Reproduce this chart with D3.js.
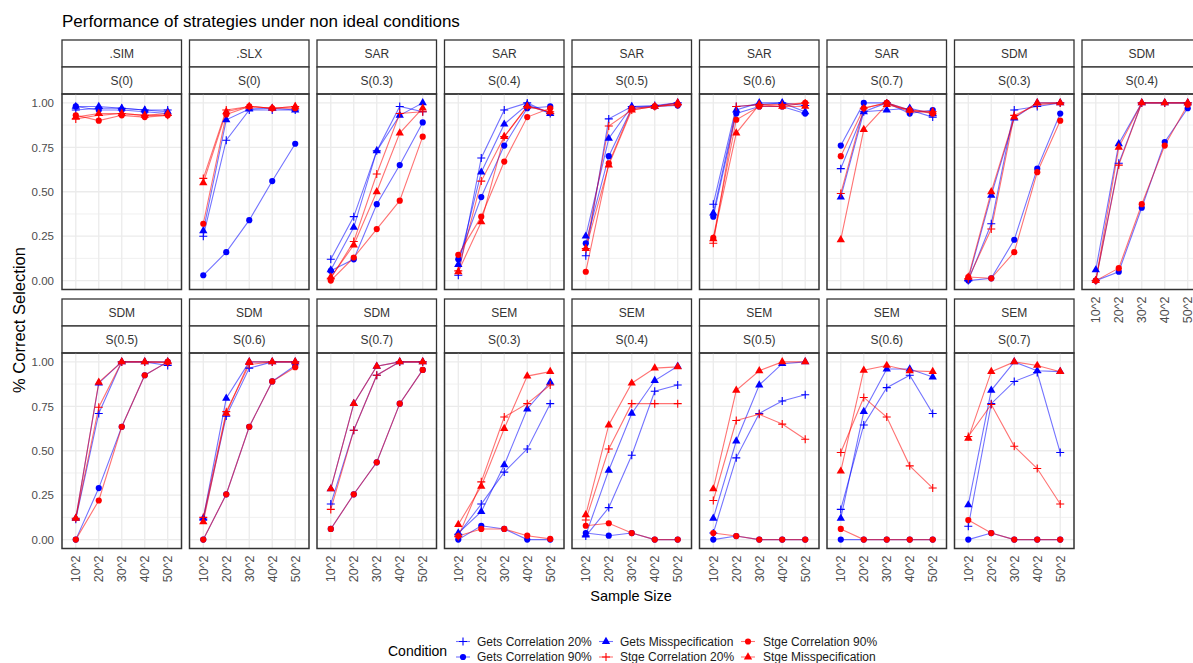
<!DOCTYPE html>
<html>
<head>
<meta charset="utf-8">
<script src="https://cdn.jsdelivr.net/npm/d3@7"></script>
<style>
  html, body { margin: 0; padding: 0; background: #ffffff; }
  svg { display: block; font-family: "Liberation Sans", Arial, sans-serif; }
</style>
</head>
<body>
<svg id="chart" width="1193" height="663"></svg>
<script>
// ---------------- DATA ----------------
const chartTitle = "Performance of strategies under non ideal conditions";
const xTitle = "Sample Size";
const yTitle = "% Correct Selection";
const legendTitle = "Condition";

const panelModels = [".SIM", ".SLX", "SAR", "SAR", "SAR", "SAR", "SAR", "SDM", "SDM",
                     "SDM", "SDM", "SDM", "SEM", "SEM", "SEM", "SEM", "SEM"];
const panelRhos = ["S(0)", "S(0)", "S(0.3)", "S(0.4)", "S(0.5)", "S(0.6)", "S(0.7)", "S(0.3)", "S(0.4)",
                   "S(0.5)", "S(0.6)", "S(0.7)", "S(0.3)", "S(0.4)", "S(0.5)", "S(0.6)", "S(0.7)"];
const sampleSizes = ["10^2", "20^2", "30^2", "40^2", "50^2"];
const yTicks = [0, 0.25, 0.5, 0.75, 1];
const yMinorTicks = [0.125, 0.375, 0.625, 0.875];

const conditionNames = ["Gets Correlation 20%", "Gets Correlation 90%", "Gets Misspecification",
                        "Stge Correlation 20%", "Stge Correlation 90%", "Stge Misspecification"];
const conditionColors = ["#0000FF", "#0000FF", "#0000FF", "#FF0000", "#FF0000", "#FF0000"];
const conditionShapes = ["plus", "circle", "triangle", "plus", "circle", "triangle"];

// one row per panel, five values per row (10^2 .. 50^2)
const getsCorr20 = [
  [0.96, 0.97, 0.97, 0.96, 0.96],
  [0.25, 0.79, 0.96, 0.96, 0.96],
  [0.12, 0.36, 0.73, 0.98, 0.95],
  [0.03, 0.69, 0.96, 1.00, 0.94],
  [0.14, 0.91, 0.98, 0.985, 1.00],
  [0.43, 0.98, 0.99, 1.00, 0.985],
  [0.63, 0.95, 1.00, 0.96, 0.92],
  [0.00, 0.32, 0.96, 0.98, 1.00],
  [0.00, 0.66, 1.00, 1.00, 1.00],
  [0.115, 0.71, 1.00, 1.00, 0.98],
  [0.115, 0.695, 0.965, 1.00, 1.00],
  [0.20, 0.615, 0.925, 1.00, 1.00],
  [0.03, 0.20, 0.38, 0.51, 0.765],
  [0.02, 0.18, 0.475, 0.835, 0.87],
  [0.037, 0.46, 0.71, 0.78, 0.815],
  [0.17, 0.645, 0.855, 0.925, 0.71],
  [0.075, 0.765, 0.89, 0.94, 0.49]
];
const getsCorr90 = [
  [0.98, 0.96, 0.96, 0.95, 0.94],
  [0.03, 0.16, 0.34, 0.56, 0.77],
  [0.055, 0.12, 0.43, 0.65, 0.89],
  [0.12, 0.47, 0.76, 0.97, 0.98],
  [0.21, 0.70, 0.97, 0.98, 0.985],
  [0.36, 0.94, 0.98, 0.98, 0.94],
  [0.76, 1.00, 1.00, 0.94, 0.96],
  [0.00, 0.013, 0.23, 0.63, 0.94],
  [0.00, 0.05, 0.41, 0.78, 0.97],
  [0.00, 0.29, 0.635, 0.925, 1.00],
  [0.00, 0.255, 0.635, 0.89, 0.98],
  [0.06, 0.255, 0.435, 0.765, 0.955],
  [0.00, 0.078, 0.06, 0.00, 0.00],
  [0.037, 0.022, 0.037, 0.00, 0.00],
  [0.00, 0.02, 0.00, 0.00, 0.00],
  [0.00, 0.00, 0.00, 0.00, 0.00],
  [0.00, 0.037, 0.00, 0.00, 0.00]
];
const getsMisspec = [
  [0.98, 0.98, 0.97, 0.96, 0.95],
  [0.28, 0.905, 0.965, 0.97, 0.96],
  [0.06, 0.30, 0.73, 0.93, 1.00],
  [0.09, 0.61, 0.88, 0.99, 0.94],
  [0.25, 0.80, 0.98, 0.98, 1.00],
  [0.38, 0.96, 1.00, 1.00, 0.95],
  [0.47, 0.95, 0.96, 0.97, 0.94],
  [0.01, 0.48, 0.915, 1.00, 1.00],
  [0.06, 0.77, 1.00, 1.00, 1.00],
  [0.12, 0.88, 1.00, 1.00, 1.00],
  [0.12, 0.795, 1.00, 1.00, 1.00],
  [0.285, 0.765, 0.975, 1.00, 1.00],
  [0.037, 0.157, 0.42, 0.735, 0.885],
  [0.026, 0.39, 0.71, 0.895, 0.975],
  [0.12, 0.555, 0.87, 0.99, 1.00],
  [0.12, 0.72, 0.96, 0.96, 0.915],
  [0.195, 0.84, 1.00, 0.95, 0.945]
];
const stgeCorr20 = [
  [0.91, 0.93, 0.94, 0.93, 0.93],
  [0.575, 0.96, 0.98, 0.97, 0.98],
  [0.013, 0.22, 0.60, 0.94, 0.95],
  [0.055, 0.56, 0.81, 0.98, 0.95],
  [0.18, 0.87, 0.96, 0.98, 0.99],
  [0.21, 0.98, 0.99, 0.99, 1.00],
  [0.49, 0.97, 1.00, 0.95, 0.95],
  [0.01, 0.29, 0.93, 0.99, 1.00],
  [0.00, 0.65, 1.00, 1.00, 1.00],
  [0.12, 0.745, 1.00, 1.00, 0.995],
  [0.125, 0.72, 0.985, 1.00, 1.00],
  [0.17, 0.615, 0.925, 1.00, 1.00],
  [0.017, 0.325, 0.69, 0.765, 0.87],
  [0.11, 0.51, 0.765, 0.765, 0.765],
  [0.22, 0.67, 0.705, 0.65, 0.565],
  [0.49, 0.80, 0.69, 0.415, 0.29],
  [0.58, 0.76, 0.525, 0.40, 0.20]
];
const stgeCorr90 = [
  [0.93, 0.90, 0.93, 0.92, 0.93],
  [0.32, 0.935, 0.98, 0.97, 0.97],
  [0.00, 0.13, 0.29, 0.45, 0.81],
  [0.145, 0.36, 0.67, 0.92, 0.97],
  [0.05, 0.66, 0.97, 0.98, 0.99],
  [0.24, 0.905, 0.98, 0.98, 1.00],
  [0.70, 0.97, 1.00, 0.96, 0.94],
  [0.02, 0.013, 0.16, 0.61, 0.90],
  [0.00, 0.07, 0.43, 0.76, 0.99],
  [0.00, 0.22, 0.635, 0.925, 1.00],
  [0.00, 0.255, 0.635, 0.89, 0.97],
  [0.06, 0.255, 0.435, 0.765, 0.955],
  [0.02, 0.06, 0.06, 0.022, 0.004],
  [0.078, 0.092, 0.037, 0.00, 0.00],
  [0.037, 0.02, 0.00, 0.00, 0.00],
  [0.06, 0.00, 0.00, 0.00, 0.00],
  [0.11, 0.037, 0.00, 0.00, 0.00]
];
const stgeMisspec = [
  [0.92, 0.94, 0.94, 0.93, 0.94],
  [0.55, 0.95, 0.98, 0.97, 0.98],
  [0.02, 0.20, 0.50, 0.83, 0.97],
  [0.05, 0.33, 0.81, 0.98, 0.95],
  [0.18, 0.65, 0.96, 0.98, 1.00],
  [0.235, 0.83, 0.99, 0.98, 0.98],
  [0.23, 0.85, 0.99, 0.96, 0.95],
  [0.02, 0.50, 0.92, 1.00, 1.00],
  [0.00, 0.75, 1.00, 1.00, 1.00],
  [0.12, 0.885, 1.00, 1.00, 1.00],
  [0.10, 0.71, 1.00, 1.00, 1.00],
  [0.285, 0.765, 0.975, 1.00, 1.00],
  [0.085, 0.30, 0.625, 0.92, 0.945],
  [0.14, 0.645, 0.88, 0.965, 0.972],
  [0.285, 0.84, 0.95, 1.00, 1.00],
  [0.385, 0.953, 0.98, 0.95, 0.945],
  [0.57, 0.945, 1.00, 0.98, 0.945]
];
const seriesValues = [getsCorr20, getsCorr90, getsMisspec, stgeCorr20, stgeCorr90, stgeMisspec];

// ---------------- LAYOUT ----------------
const svg = d3.select("#chart");
const nCols = 9;
const colX0 = 62, colPitch = 127.5, panelW = 119.5;
const rowTop = [40, 299];
const stripH = 27, panelH = 195.5;
const tickColor = "#4D4D4D";
const gridColor = "#EBEBEB";
const borderColor = "#333333";

function symbolPath(shape) {
  if (shape === "circle") return d3.symbol(d3.symbolCircle, 30)();
  if (shape === "triangle") return d3.symbol(d3.symbolTriangle, 30)();
  return "M-4,0H4M0,-4V4";
}
function drawSymbol(g, shape, color, x, y) {
  const p = g.append("path")
    .attr("d", symbolPath(shape))
    .attr("transform", `translate(${x},${y})`);
  if (shape === "plus") {
    p.attr("fill", "none").attr("stroke", color).attr("stroke-width", 1.1);
  } else {
    p.attr("fill", color).attr("stroke", "none");
  }
}

// title
svg.append("text")
  .attr("x", 62).attr("y", 27)
  .attr("font-size", 17).attr("fill", "#000")
  .text(chartTitle);

panelModels.forEach((model, i) => {
  const col = i % nCols, row = Math.floor(i / nCols);
  const x0 = colX0 + col * colPitch;
  const top = rowTop[row];
  const pTop = top + 2 * stripH;
  const pBot = pTop + panelH;

  const x = d3.scalePoint().domain(sampleSizes).range([x0, x0 + panelW]).padding(0.6);
  const y = d3.scaleLinear().domain([-0.05, 1.05]).range([pBot, pTop]);

  const g = svg.append("g");

  // strips
  [model, panelRhos[i]].forEach((lab, k) => {
    g.append("rect")
      .attr("x", x0).attr("y", top + k * stripH)
      .attr("width", panelW).attr("height", stripH)
      .attr("fill", "#fff").attr("stroke", borderColor).attr("stroke-width", 1.3);
    g.append("text")
      .attr("x", x0 + panelW / 2).attr("y", top + k * stripH + stripH / 2)
      .attr("text-anchor", "middle").attr("dominant-baseline", "central")
      .attr("font-size", 12).attr("fill", "#333")
      .text(lab);
  });

  // grid
  yMinorTicks.forEach(t => {
    g.append("line").attr("x1", x0).attr("x2", x0 + panelW)
      .attr("y1", y(t)).attr("y2", y(t))
      .attr("stroke", gridColor).attr("stroke-width", 0.7);
  });
  yTicks.forEach(t => {
    g.append("line").attr("x1", x0).attr("x2", x0 + panelW)
      .attr("y1", y(t)).attr("y2", y(t))
      .attr("stroke", gridColor).attr("stroke-width", 1.3);
  });
  sampleSizes.forEach(s => {
    g.append("line").attr("x1", x(s)).attr("x2", x(s))
      .attr("y1", pTop).attr("y2", pBot)
      .attr("stroke", gridColor).attr("stroke-width", 1.3);
  });

  // lines
  const line = d3.line().x((d, j) => x(sampleSizes[j])).y(d => y(d));
  seriesValues.forEach((series, c) => {
    g.append("path")
      .attr("d", line(series[i]))
      .attr("fill", "none")
      .attr("stroke", conditionColors[c])
      .attr("stroke-opacity", 0.55)
      .attr("stroke-width", 1.1);
  });
  // points
  seriesValues.forEach((series, c) => {
    series[i].forEach((v, j) => {
      drawSymbol(g, conditionShapes[c], conditionColors[c], x(sampleSizes[j]), y(v));
    });
  });

  // border
  g.append("rect")
    .attr("x", x0).attr("y", pTop)
    .attr("width", panelW).attr("height", panelH)
    .attr("fill", "none").attr("stroke", borderColor).attr("stroke-width", 1.5);

  // y axis labels (first column)
  if (col === 0) {
    const ax = d3.axisLeft(y).tickValues(yTicks).tickFormat(d3.format(".2f"))
      .tickSize(0).tickPadding(8);
    const ag = svg.append("g").attr("transform", `translate(${x0},0)`).call(ax);
    ag.select(".domain").remove();
    ag.selectAll("text").attr("font-size", 11.5).attr("fill", tickColor)
      .attr("font-family", "Liberation Sans, Arial, sans-serif");
  }
  // x axis labels (bottom row or last panel of first row)
  const hasPanelBelow = (i + nCols) < panelModels.length;
  if (!hasPanelBelow) {
    const ax = d3.axisBottom(x).tickSize(0).tickPadding(0);
    const ag = svg.append("g").attr("transform", `translate(0,${pBot})`).call(ax);
    ag.select(".domain").remove();
    ag.selectAll("text")
      .attr("font-size", 12.5).attr("fill", tickColor)
      .attr("font-family", "Liberation Sans, Arial, sans-serif")
      .attr("text-anchor", "end")
      .attr("dominant-baseline", "central")
      .attr("dy", null)
      .attr("y", 0).attr("x", 0)
      .attr("transform", "translate(0,7) rotate(-90)");
  }
});

// axis titles
svg.append("text")
  .attr("x", 631).attr("y", 601)
  .attr("text-anchor", "middle").attr("font-size", 14.5).attr("fill", "#000")
  .text(xTitle);
svg.append("text")
  .attr("transform", "translate(25,320) rotate(-90)")
  .attr("text-anchor", "middle").attr("font-size", 16.5).attr("fill", "#000")
  .text(yTitle);

// legend
svg.append("text")
  .attr("x", 388).attr("y", 650.5)
  .attr("dominant-baseline", "central")
  .attr("font-size", 14).attr("fill", "#000")
  .text(legendTitle);
const legSymX = [463, 606, 748];
const legTextX = [477, 620, 763];
const legRowY = [641.5, 657];
conditionNames.forEach((name, c) => {
  const colIdx = Math.floor(c / 2), rowIdx = c % 2;
  const sx = legSymX[colIdx], sy = legRowY[rowIdx];
  const lg = svg.append("g");
  lg.append("line").attr("x1", sx - 7).attr("x2", sx + 7).attr("y1", sy).attr("y2", sy)
    .attr("stroke", conditionColors[c]).attr("stroke-opacity", 0.55).attr("stroke-width", 1.1);
  drawSymbol(lg, conditionShapes[c], conditionColors[c], sx, sy);
  lg.append("text")
    .attr("x", legTextX[colIdx]).attr("y", sy)
    .attr("dominant-baseline", "central")
    .attr("font-size", 12).attr("fill", "#1a1a1a")
    .text(name);
});
</script>
</body>
</html>
